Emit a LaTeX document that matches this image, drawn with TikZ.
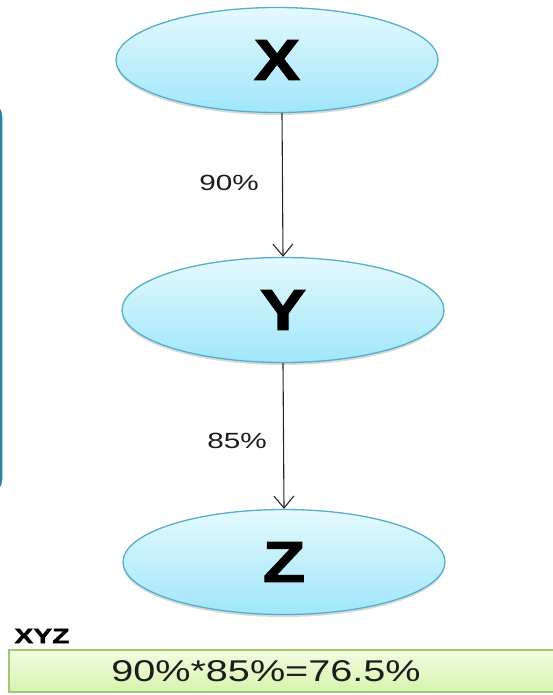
\documentclass[tikz,border=0pt]{standalone}
\usepackage{fontspec}
\setmainfont{Liberation Sans}
\newfontfamily\heavyfont[BoldFeatures={FakeBold=1.6}]{Liberation Sans}
\usetikzlibrary{shapes.geometric,arrows.meta,shadows}

\definecolor{ellTop}{RGB}{228,249,254}
\definecolor{ellBot}{RGB}{160,230,250}
\definecolor{ellEdge}{RGB}{86,174,200}
\definecolor{frameTeal}{RGB}{38,134,160}
\definecolor{boxTop}{RGB}{242,253,226}
\definecolor{boxBot}{RGB}{214,243,172}
\definecolor{boxEdge}{RGB}{163,199,112}
\definecolor{labelInk}{RGB}{28,28,28}

% horizontally widened text
\newcommand{\widetext}[2][1.35]{\scalebox{#1}[1]{#2}}

\begin{document}
\begin{tikzpicture}[x=1pt,y=-1pt,
  varnode/.style={ellipse, draw=ellEdge, line width=1.3pt,
    top color=ellTop, bottom color=ellBot, inner sep=0pt,
    minimum width=322pt, minimum height=105pt,
    drop shadow={shadow xshift=0pt, shadow yshift=-2.5pt, opacity=0.25, fill=black!60},
    font=\fontsize{58}{60}\selectfont\heavyfont\bfseries},
  link/.style={draw=black!85, line width=1.1pt,
    -{Straight Barb[length=12pt,width=20pt,line width=1.1pt]}},
  pct/.style={font=\fontsize{22}{24}\selectfont, text=labelInk, inner sep=0pt},
  sumbox/.style={rectangle, draw=boxEdge, line width=1.5pt,
    top color=boxTop, bottom color=boxBot, inner sep=0pt,
    minimum width=556pt, minimum height=42pt}
]
\useasboundingbox (0,0) rectangle (553,695);
\clip (0,0) rectangle (553,695);

% edge of a framing panel on the left
\draw[frameTeal, line width=2.5pt, rounded corners=12pt] (-100,104) rectangle (1,492);

% variables
\node[varnode] (X) at (277,60)  {\widetext[1.2]{X}};
\node[varnode] (Y) at (283,310) {\widetext[1.2]{Y}};
\node[varnode] (Z) at (284,562) {\widetext[1.2]{Z}};

% links
\draw[link] ([xshift=5pt]X.south) -- (Y.north);
\draw[link] (Y.south) -- (Z.north);

\node[pct] (p1) at (229,183) {\widetext{90\%}};
\node[pct] (p2) at (237,441) {\widetext{85\%}};

% chain product
\node[font=\fontsize{21}{22}\selectfont\heavyfont\bfseries, text=black, inner sep=0pt]
  (chain) at (42,636) {\widetext[1.35]{XYZ}};
\node[sumbox] (sum) at (287,671) {};
\node[font=\fontsize{30}{32}\selectfont, text=labelInk, inner sep=0pt]
  (prod) at (266,671) {\widetext[1.32]{90\%*85\%=76.5\%}};
\end{tikzpicture}
\end{document}
